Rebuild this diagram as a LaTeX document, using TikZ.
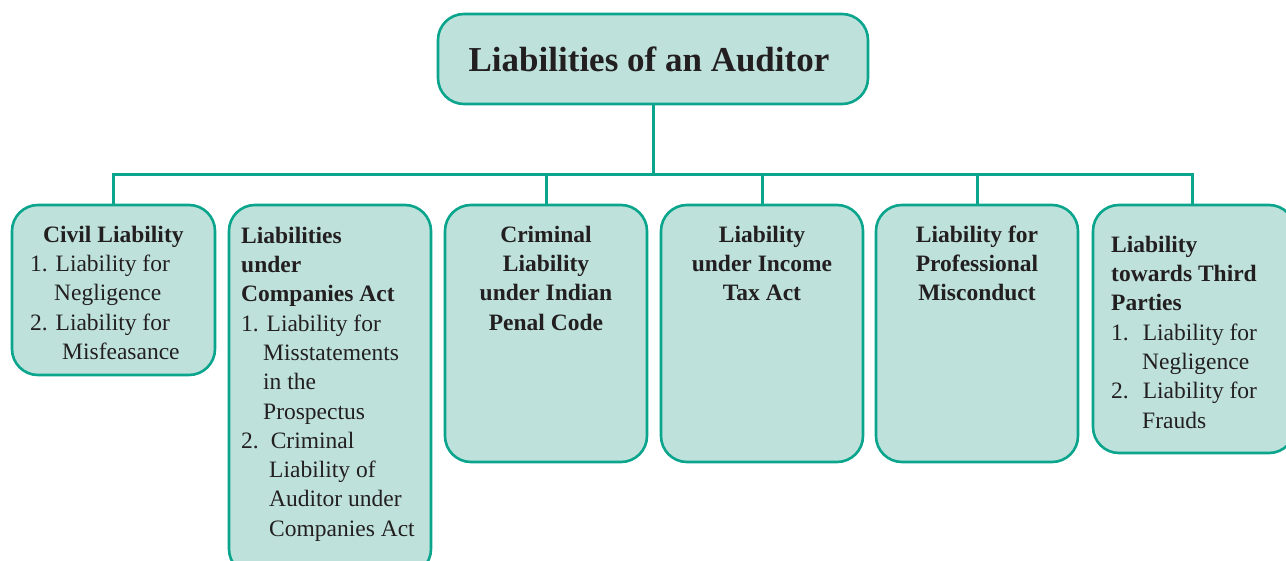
\documentclass[tikz,border=0pt]{standalone}
\usepackage{fontspec}
\setmainfont{Liberation Serif}
\definecolor{boxfill}{RGB}{190,226,219}
\definecolor{boxline}{RGB}{10,165,140}
\definecolor{ink}{RGB}{35,31,32}
\tikzset{
  box/.style={draw=boxline, fill=boxfill, line width=2.6pt, rounded corners=26pt, inner sep=0pt},
  link/.style={draw=boxline, line width=3pt},
  txt/.style={inner sep=0pt, text=ink, font=\fontsize{23.5}{29.3}\selectfont},
}
\begin{document}
\begin{tikzpicture}[x=1pt,y=-1pt]
\clip (0,0) rectangle (1286,561);
\fill[white] (0,0) rectangle (1286,561);
% boxes
\node[box, minimum width=430pt, minimum height=90pt] (root) at (653,59) {};
\node[box, minimum width=203pt, minimum height=170pt] (c1) at (113.5,290) {};
\node[box, minimum width=202pt, minimum height=370pt] (c2) at (330,390) {};
\node[box, minimum width=202pt, minimum height=257pt] (c3) at (546,333.5) {};
\node[box, minimum width=202pt, minimum height=257pt] (c4) at (762,333.5) {};
\node[box, minimum width=202pt, minimum height=257pt] (c5) at (977,333.5) {};
\node[box, minimum width=202pt, minimum height=248pt] (c6) at (1194,329) {};
% connectors
\coordinate (bus) at (0,175);
\coordinate (d6) at (1192,175);
\draw[link] (root.south) -- (root.south |- bus);
\draw[link] (c1.north) -- (c1.north |- bus) -- (d6) -- (d6 |- c6.north);
\draw[link] (c3.north) -- (c3.north |- bus);
\draw[link] (c4.north) -- (c4.north |- bus);
\draw[link] (c5.north) -- (c5.north |- bus);
% texts
\node[txt, font=\fontsize{35}{40}\selectfont\bfseries, anchor=base] (t0) at (649,72) {Liabilities of an Auditor};
\node[txt, anchor=north west, align=left] (t1) at (30,221.5) {\strut\hspace*{13pt}\textbf{Civil Liability}\\
1. Liability for\\
\hspace*{24pt}Negligence\\
2. Liability for\\
\hspace*{32pt}Misfeasance};
\node[txt, anchor=north west, align=left] (t2) at (241,222.5) {\strut\textbf{Liabilities}\\
\textbf{under}\\
\textbf{Companies Act}\\
1. Liability for\\
\hspace*{22pt}Misstatements\\
\hspace*{22pt}in the\\
\hspace*{22pt}Prospectus\\
2.\hspace*{12pt}Criminal\\
\hspace*{28pt}Liability of\\
\hspace*{28pt}Auditor under\\
\hspace*{28pt}Companies Act};
\node[txt, anchor=north, align=center, font=\fontsize{23.5}{29.3}\selectfont\bfseries] (t3) at (546,221.5) {\strut Criminal\\ Liability\\ under Indian\\ Penal Code};
\node[txt, anchor=north, align=center, font=\fontsize{23.5}{29.3}\selectfont\bfseries] (t4) at (762,221.5) {\strut Liability\\ under Income\\ Tax Act};
\node[txt, anchor=north, align=center, font=\fontsize{23.5}{29.3}\selectfont\bfseries] (t5) at (977,221.5) {\strut Liability for\\ Professional\\ Misconduct};
\node[txt, anchor=north west, align=left] (t6) at (1111,231.5) {\strut\textbf{Liability}\\
\textbf{towards Third}\\
\textbf{Parties}\\
1.\hspace*{14pt}Liability for\\
\hspace*{31pt}Negligence\\
2.\hspace*{14pt}Liability for\\
\hspace*{31pt}Frauds};
\end{tikzpicture}
\end{document}
